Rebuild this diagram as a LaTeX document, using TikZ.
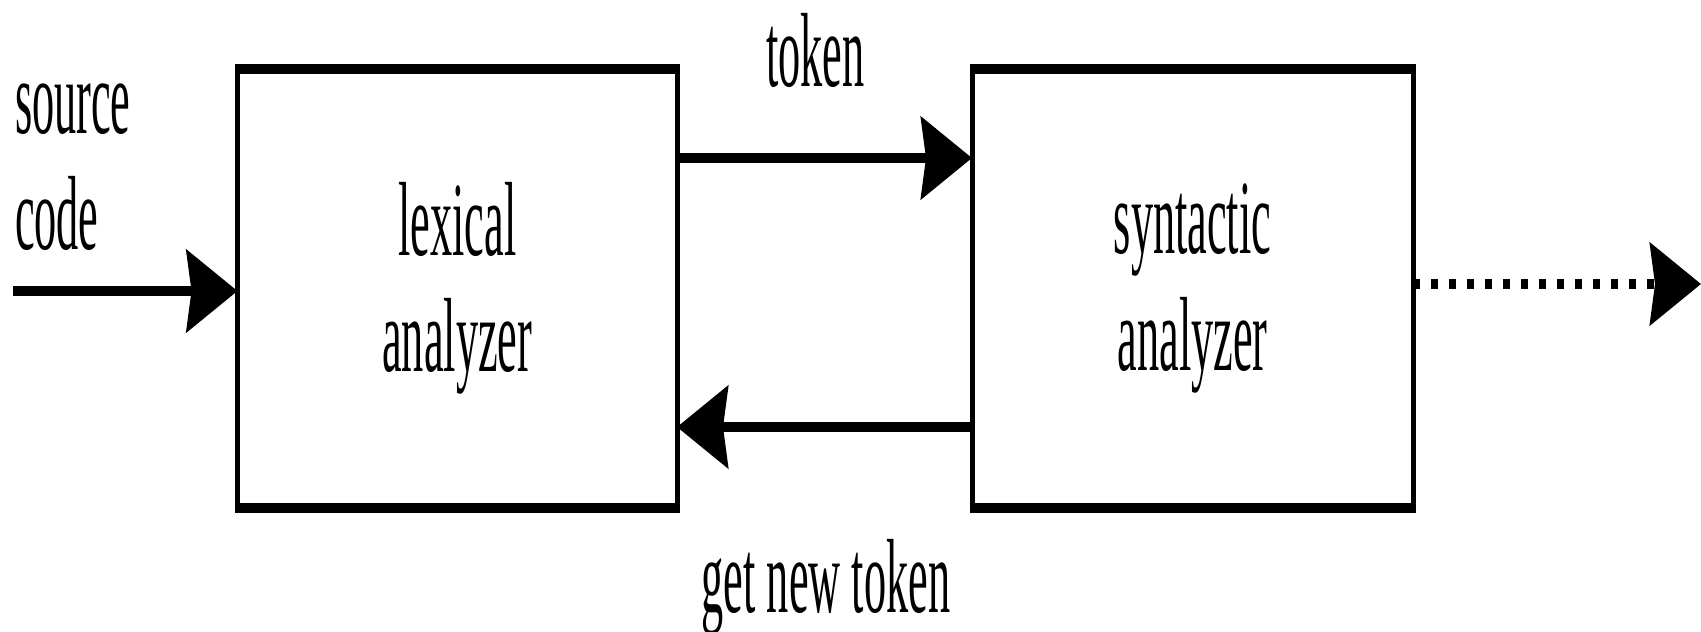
\documentclass[tikz,border=0pt]{standalone}
\usepackage{fontspec}
\setmainfont{Liberation Serif}[FakeStretch=0.42]
\usetikzlibrary{arrows.meta}
\begin{document}
\begin{tikzpicture}[
  x=1cm, y=1cm,
  lbl/.style={font=\fontsize{30}{33.15}\selectfont, inner sep=0pt, outer sep=0pt},
  stage/.style={lbl, align=center, minimum height=4.39cm},
  hedge/.style={line width=0.1cm, shorten <=-0.025cm, shorten >=-0.025cm},
  vedge/.style={line width=0.05cm},
  flow/.style={-{Stealth[length=0.51cm,width=0.82cm,inset=0.05cm]}, line width=0.1cm},
  dotflow/.style={flow, dash pattern=on 0.07cm off 0.11cm},
]
\useasboundingbox (0,0) rectangle (17.01,6.31);

% the two analyzer stages
\node[stage, minimum width=4.395cm] (lex) at (4.5725,3.425) {lexical\\analyzer};
\node[stage, minimum width=4.41cm]  (syn) at (11.925,3.425) {syntactic\\analyzer};
\foreach \b in {lex,syn}{
  \draw[vedge] (\b.north west) -- (\b.south west);
  \draw[vedge] (\b.north east) -- (\b.south east);
  \draw[hedge] (\b.north west) -- (\b.north east);
  \draw[hedge] (\b.south west) -- (\b.south east);
}

% input and output ends
\coordinate (src) at (0.13,3.40);
\coordinate (out) at (17.01,3.47);

% connectors
\draw[flow] (src) -- (src -| lex.west);
\draw[flow] ([yshift=1.305cm]lex.east) -- ([yshift=1.305cm]syn.west);
\draw[flow] ([yshift=-1.385cm]syn.west) -- ([yshift=-1.385cm]lex.east);
\draw[dotflow] (out -| syn.east) -- (out);

% labels
\node[lbl, align=left, anchor=south west] (srclbl) at (0.15,3.80) {source\\code};
\node[lbl, anchor=base] (toklbl) at (8.155,5.445) {token};
\node[lbl, anchor=base] (getlbl) at (8.26,0.19) {get new token};
\end{tikzpicture}
\end{document}
